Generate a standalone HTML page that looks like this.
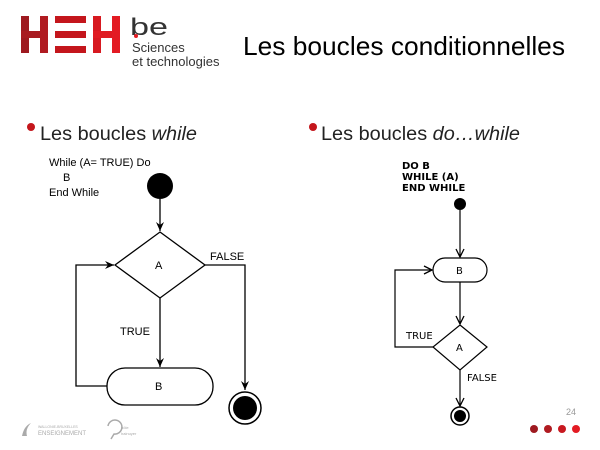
<!DOCTYPE html>
<html><head><meta charset="utf-8"><style>
html,body{margin:0;padding:0;background:#fff;}
svg{display:block;}
</style></head><body>
<svg width="600" height="450" viewBox="0 0 600 450" xmlns="http://www.w3.org/2000/svg" font-family="Liberation Sans, sans-serif">
<defs>
<marker id="ar" markerWidth="10" markerHeight="10" refX="9" refY="5" orient="auto" markerUnits="userSpaceOnUse">
<path d="M0,1 L9,5 L0,9 L3,5 Z" fill="#000"/></marker>
<marker id="ao" markerWidth="10" markerHeight="10" refX="9" refY="5" orient="auto" markerUnits="userSpaceOnUse">
<path d="M1,1 L9,5 L1,9" fill="none" stroke="#000" stroke-width="1.3"/></marker>
</defs>
<!-- logo -->
<g fill="#c4161c">
<rect x="21" y="16" width="8" height="37" fill="#9e1a20"/><rect x="21" y="31" width="26" height="7" fill="#a81b21"/><rect x="40" y="16" width="8" height="37" fill="#b01b21"/>
<rect x="55" y="16" width="31" height="7"/><rect x="55" y="31" width="31" height="7"/><rect x="55" y="46" width="31" height="7"/>
<rect x="93" y="16" width="8" height="37" fill="#d71920"/><rect x="93" y="31" width="27" height="7" fill="#e01b22"/><rect x="112" y="16" width="8" height="37" fill="#e31b23"/>
</g>
<text x="130" y="35" font-size="24" fill="#333" textLength="38" lengthAdjust="spacingAndGlyphs">be</text>
<circle cx="136" cy="36" r="2" fill="#e31b23"/>
<text x="132" y="52" font-size="13" fill="#333">Sciences</text>
<text x="132" y="66" font-size="13" fill="#333">et technologies</text>
<text x="243" y="55" font-size="26" fill="#000" textLength="322" lengthAdjust="spacingAndGlyphs">Les boucles conditionnelles</text>
<!-- bullets -->
<circle cx="31" cy="127" r="4" fill="#c4161c"/>
<text x="40" y="140" font-size="19" fill="#222" textLength="157" lengthAdjust="spacingAndGlyphs">Les boucles <tspan font-style="italic">while</tspan></text>
<circle cx="313" cy="127" r="4" fill="#c4161c"/>
<text x="321" y="140" font-size="19" fill="#222" textLength="199" lengthAdjust="spacingAndGlyphs">Les boucles <tspan font-style="italic">do…while</tspan></text>
<!-- left diagram -->
<g font-size="11" fill="#000">
<text x="49" y="166">While (A= TRUE) Do</text>
<text x="63" y="181">B</text>
<text x="49" y="196">End While</text>
</g>
<circle cx="160" cy="186" r="13" fill="#000"/>
<g stroke="#000" stroke-width="1.3" fill="none">
<line x1="160" y1="199" x2="160" y2="231" marker-end="url(#ar)"/>
<polygon points="160,232 205,265 160,298 115,265" fill="#fff"/>
<line x1="160" y1="298" x2="160" y2="367" marker-end="url(#ar)"/>
<rect x="107" y="368" width="106" height="37" rx="18" fill="#fff"/>
<polyline points="107,386 76,386 76,265 114,265" marker-end="url(#ar)"/>
<polyline points="205,265 245,265 245,390" marker-end="url(#ar)"/>
<circle cx="245" cy="408" r="16" fill="#fff" stroke-width="1.5"/>
</g>
<circle cx="245" cy="408" r="12" fill="#000"/>
<g font-size="11" fill="#000">
<text x="155" y="269">A</text>
<text x="210" y="260">FALSE</text>
<text x="120" y="335">TRUE</text>
<text x="155" y="390">B</text>
</g>
<!-- right diagram -->
<g font-family="DejaVu Sans, sans-serif" font-weight="bold" font-size="10" fill="#000">
<text x="402" y="169">DO B</text>
<text x="402" y="180">WHILE (A)</text>
<text x="402" y="191">END WHILE</text>
</g>
<circle cx="460" cy="204" r="6" fill="#000"/>
<g stroke="#000" stroke-width="1.2" fill="none">
<line x1="460" y1="210" x2="460" y2="257" marker-end="url(#ao)"/>
<rect x="433" y="258" width="54" height="24" rx="12" fill="#fff"/>
<line x1="460" y1="282" x2="460" y2="324" marker-end="url(#ao)"/>
<polygon points="460,325 487,347 460,370 433,347" fill="#fff"/>
<polyline points="433,347 395,347 395,270 432,270" marker-end="url(#ao)"/>
<line x1="460" y1="370" x2="460" y2="406" marker-end="url(#ao)"/>
<circle cx="460" cy="416" r="9" fill="#fff" stroke-width="1.5"/>
</g>
<circle cx="460" cy="416" r="6" fill="#000"/>
<g font-family="DejaVu Sans, sans-serif" font-size="10" fill="#000">
<text x="456" y="274">B</text>
<text x="456" y="351">A</text>
<text x="406" y="339">TRUE</text>
<text x="467" y="381">FALSE</text>
</g>
<!-- footer -->
<text x="566" y="415" font-size="9" fill="#999">24</text>
<circle cx="534" cy="429" r="4" fill="#9e1a20"/><circle cx="548" cy="429" r="4" fill="#b01b21"/><circle cx="562" cy="429" r="4" fill="#c8181f"/><circle cx="576" cy="429" r="4" fill="#e31b23"/>
<path d="M22,436 q2,-10 9,-13 q-6,6 -4,13 z" fill="#aaa"/>
<text x="38" y="428" font-size="3.5" fill="#aaa">WALLONIE-BRUXELLES</text>
<text x="38" y="435" font-size="6" fill="#aaa">ENSEIGNEMENT</text>
<path d="M108,426 a7,7 0 1 1 6,8 l-3,5" fill="none" stroke="#aaa" stroke-width="1.5"/>
<text x="121" y="429" font-size="4" fill="#aaa">pôle</text>
<text x="121" y="435" font-size="4" fill="#aaa">hainuyer</text>
</svg>
</body></html>
